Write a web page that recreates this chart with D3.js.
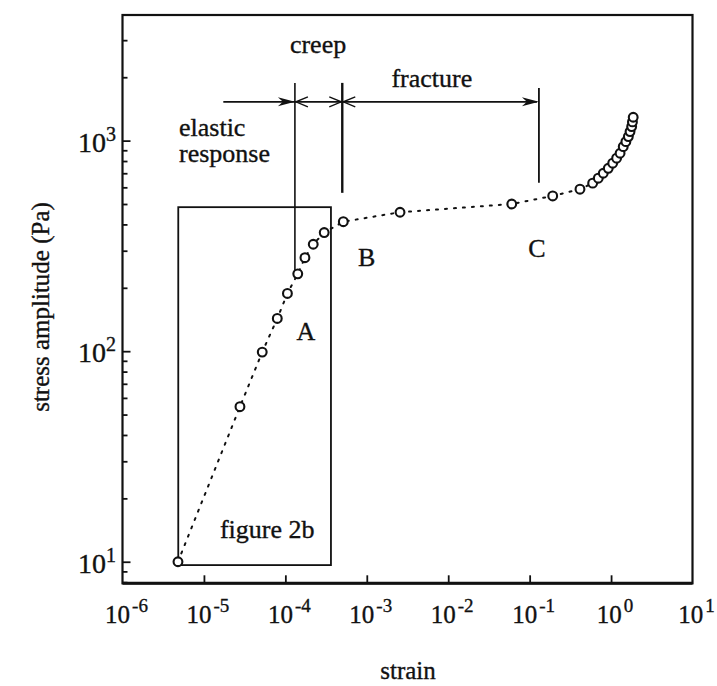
<!DOCTYPE html>
<html>
<head>
<meta charset="utf-8">
<script src="https://cdn.jsdelivr.net/npm/d3@7"></script>
<style>
    body { margin: 0; background: #fff; }
    svg text { font-family: "Liberation Serif", "Times New Roman", serif; fill: #111; stroke: #111; stroke-width: 0.35; }
</style>
</head>
<body>
<svg id="chart" width="717" height="686"></svg>
<script>
// Values
const strain = [4.8e-6, 2.77e-5, 5.2e-5, 7.96e-5, 1.06e-4, 1.42e-4, 1.74e-4, 2.2e-4, 3.0e-4, 5.15e-4,
    2.56e-3, 0.0603, 0.192, 0.415, 0.594, 0.697, 0.802, 0.924, 1.047, 1.17, 1.29, 1.41, 1.52,
    1.63, 1.71, 1.79, 1.83, 1.87];
const stress = [10, 54.5, 99, 143, 188, 233, 278, 322, 366, 412,
    457, 500, 546, 588, 628, 663, 700, 739, 781, 825, 871, 936, 989,
    1045, 1104, 1166, 1227, 1291];

const xTickExps = [-6, -5, -4, -3, -2, -1, 0, 1];
const yTickExps = [1, 2, 3];

// regime boundaries (strain) and the arrow level (stress)
const regimeEdges = [1.73e-5, 1.31e-4, 5.0e-4, 0.13];
const arrowStress = 1528;

// box marking the part shown in figure 2b
const boxStrain = [4.84e-6, 3.63e-4];
const boxStress = [9.64, 483];

// text labels in data coordinates
const labelText = ['creep', 'fracture', 'elastic', 'response', 'A', 'B', 'C', 'figure 2b'];
const labelStrain = [2.52e-4, 6.3e-3, 4.94e-6, 4.94e-6, 1.79e-4, 1.0e-3, 0.123, 1.57e-5];
const labelStress = [2612, 1799, 1050, 792, 113, 255, 281, 12.96];
const labelAnchor = ['middle', 'middle', 'start', 'start', 'middle', 'middle', 'middle', 'start'];

const svg = d3.select('#chart');

const plot = { left: 122.5, right: 692.5, top: 15, bottom: 583.3 };

const x = d3.scaleLog().domain([1e-6, 1e1]).range([plot.left, plot.right]);
const y = d3.scaleLog().domain([7.9, 3950]).range([plot.bottom, plot.top]);

// minor ticks on the stress axis
const yMinor = [];
[1, 10, 100, 1000].forEach(d => {
    for (let k = 2; k <= 9; k++) {
        const v = k * d;
        if (v > y.domain()[0] && v < y.domain()[1]) yMinor.push(v);
    }
});

// ticks (inward)
const xAx = svg.append('g')
    .attr('transform', `translate(0,${plot.bottom})`)
    .call(d3.axisBottom(x).tickValues(xTickExps.slice(1, -1).map(e => Math.pow(10, e))).tickSize(-8).tickFormat(''));
const yAx = svg.append('g')
    .attr('transform', `translate(${plot.left},0)`)
    .call(d3.axisLeft(y).tickValues(yTickExps.map(e => Math.pow(10, e))).tickSize(-8).tickFormat(''));
const yAxMinor = svg.append('g')
    .attr('transform', `translate(${plot.left},0)`)
    .call(d3.axisLeft(y).tickValues(yMinor).tickSize(-5).tickFormat(''));
[xAx, yAx, yAxMinor].forEach(g => {
    g.select('.domain').remove();
    g.selectAll('line').attr('stroke', '#111').attr('stroke-width', 1.8);
});

// frame
svg.append('rect')
    .attr('x', plot.left).attr('y', plot.top)
    .attr('width', plot.right - plot.left).attr('height', plot.bottom - plot.top)
    .attr('fill', 'none').attr('stroke', '#111').attr('stroke-width', 2.2);
svg.append('line')
    .attr('x1', plot.left).attr('x2', plot.right)
    .attr('y1', plot.bottom).attr('y2', plot.bottom)
    .attr('stroke', '#111').attr('stroke-width', 3);

// x tick labels
xTickExps.forEach(e => {
    const t = svg.append('text')
        .attr('x', x(Math.pow(10, e)) + 4)
        .attr('y', 623)
        .attr('text-anchor', 'middle');
    t.append('tspan').attr('font-size', 25).text('10');
    t.append('tspan').attr('font-size', 19).attr('dy', -11).attr('dx', 2).text(e);
});

// y tick labels
yTickExps.forEach(e => {
    const t = svg.append('text')
        .attr('x', 116)
        .attr('y', y(Math.pow(10, e)) + 11)
        .attr('text-anchor', 'end');
    t.append('tspan').attr('font-size', 28).text('10');
    t.append('tspan').attr('font-size', 20).attr('dy', -11).text(e);
});

// axis titles
svg.append('text')
    .attr('transform', 'translate(49,307) rotate(-90)')
    .attr('text-anchor', 'middle')
    .attr('font-size', 25)
    .text('stress amplitude (Pa)');
svg.append('text')
    .attr('x', 408).attr('y', 679)
    .attr('text-anchor', 'middle')
    .attr('font-size', 25)
    .text('strain');

// figure 2b box
svg.append('rect')
    .attr('x', x(boxStrain[0])).attr('y', y(boxStress[1]))
    .attr('width', x(boxStrain[1]) - x(boxStrain[0]))
    .attr('height', y(boxStress[0]) - y(boxStress[1]))
    .attr('fill', 'none').attr('stroke', '#111').attr('stroke-width', 1.8);

// regime markers
const ay = y(arrowStress);
const vTop = [1880, 1880, 1778];
const vBottom = [240, 565, 630];
const vWidth = [1.6, 2.4, 1.8];
regimeEdges.slice(1).forEach((s, i) => {
    svg.append('line')
        .attr('x1', x(s)).attr('x2', x(s))
        .attr('y1', y(vTop[i])).attr('y2', y(vBottom[i]))
        .attr('stroke', '#111').attr('stroke-width', vWidth[i]);
});
// horizontal arrow shaft
svg.append('line')
    .attr('x1', x(regimeEdges[0])).attr('x2', x(regimeEdges[3]) - 2)
    .attr('y1', ay).attr('y2', ay)
    .attr('stroke', '#111').attr('stroke-width', 1.6);

function filledHead(px) {
    svg.append('path')
        .attr('d', `M${px},${ay} L${px - 17},${ay - 4.5} L${px - 12},${ay} L${px - 17},${ay + 4.5} Z`)
        .attr('fill', '#111');
}
function openHead(px, dir) {
    svg.append('path')
        .attr('d', `M${px + dir * 13},${ay - 5} L${px + 1 * dir},${ay} L${px + dir * 13},${ay + 5}`)
        .attr('fill', 'none').attr('stroke', '#111').attr('stroke-width', 1.4);
}
filledHead(x(regimeEdges[1]));
openHead(x(regimeEdges[1]), 1);
openHead(x(regimeEdges[2]), -1);
openHead(x(regimeEdges[2]), 1);
filledHead(x(regimeEdges[3]));

// dotted connecting line
const pts = strain.map((s, i) => [s, stress[i]]);
svg.append('path')
    .datum(pts)
    .attr('d', d3.line().x(d => x(d[0])).y(d => y(d[1])))
    .attr('fill', 'none')
    .attr('stroke', '#111')
    .attr('stroke-width', 2)
    .attr('stroke-linecap', 'round')
    .attr('stroke-dasharray', '2,7');

// data circles
svg.selectAll('circle.pt')
    .data(pts)
    .enter()
    .append('circle')
    .attr('class', 'pt')
    .attr('cx', d => x(d[0]))
    .attr('cy', d => y(d[1]))
    .attr('r', 4.4)
    .attr('fill', '#fff')
    .attr('stroke', '#111')
    .attr('stroke-width', 2.1);

// labels
labelText.forEach((t, i) => {
    svg.append('text')
        .attr('x', x(labelStrain[i]))
        .attr('y', y(labelStress[i]))
        .attr('text-anchor', labelAnchor[i])
        .attr('font-size', 26)
        .text(t);
});
</script>
</body>
</html>
